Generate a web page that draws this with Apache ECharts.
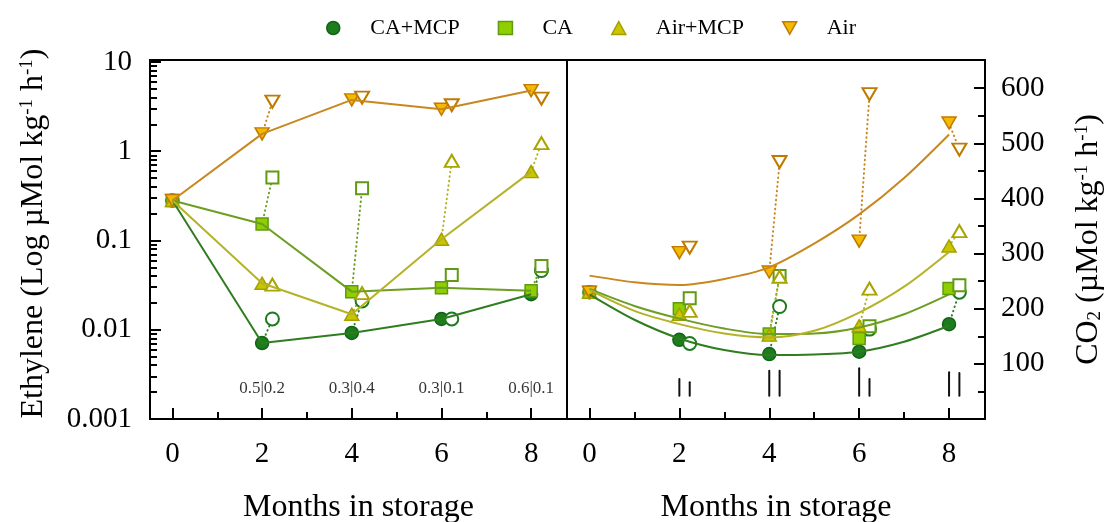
<!DOCTYPE html>
<html lang="en">
<head>
<meta charset="UTF-8">
<title>Ethylene and CO2 during storage</title>
<style>
  html, body { margin: 0; padding: 0; background: #fff; }
  #main { width: 1110px; height: 522px; }
</style>
</head>
<body>
<div id="main"></div>
<script src="https://cdn.jsdelivr.net/npm/echarts@6/dist/echarts.min.js"></script>
<script>
// months in storage (filled = at removal, open = after shelf life)
var months = [0, 2, 4, 6, 8];
var shelfMonths = [2.23, 4.23, 6.23, 8.23];
var fitMonths = [0, 1, 2, 3, 4, 5, 6, 7, 8];

// ethylene, log scale (left panel)
var caMcpEth = [0.28, 0.0071, 0.0092, 0.0132, 0.025];
var caEth = [0.28, 0.153, 0.0267, 0.0296, 0.0274];
var airMcpEth = [0.28, 0.0331, 0.0149, 0.103, 0.59];
var airEth = [0.28, 1.56, 3.75, 2.95, 4.77];
var caMcpEthShelf = [0.0132, 0.021, 0.0132, 0.046];
var caEthShelf = [0.506, 0.385, 0.041, 0.0517];
var airMcpEthShelf = [0.032, 0.0257, 0.78, 1.23];
var airEthShelf = [3.59, 3.98, 3.27, 3.88];
var lsdText = ['0.5|0.2', '0.3|0.4', '0.3|0.1', '0.6|0.1'];
var lsdTextMonths = [2, 4, 6, 8];

// CO2 (right panel)
var caMcpCO2 = [230, 143.6, 117.7, 122, 172];
var caCO2 = [230, 200, 154, 146, 236.5];
var airMcpCO2 = [230, 190, 152, 169, 313.6];
var airCO2 = [230, 301.6, 266.6, 322.6, 536.7];
var caMcpCO2Shelf = [137, 204, 163, 230];
var caCO2Shelf = [219, 259.4, 168, 242.5];
var airMcpCO2Shelf = [196, 258, 236.5, 340.7];
var airCO2Shelf = [310.7, 466, 589, 488.4];
// fitted curves read at every month
var caMcpFit = [226, 180, 146, 125, 116, 117, 122, 140, 169];
var caFit = [236, 205, 182, 164, 154, 155, 166, 190, 226];
var airMcpFit = [234, 196, 172, 155, 148, 160, 193, 240, 303];
var airFit = [260, 248, 243, 254, 275, 318, 371, 437, 516];
// LSD bars
var lsdBarMonths = [2, 2.23, 4, 4.23, 6, 6.23, 8, 8.23];
var lsdBarTop = [72.7, 66.7, 87.5, 87.5, 92, 72.5, 84.6, 83.4];
var lsdBarBase = 42.3;

var FONT = 'Liberation Serif';
var downTri = 'path://M0,0L10,0L5,9Z';

var groups = [
  { name: 'CA+MCP', symbol: 'circle', size: 13, fill: '#1b7d1b', edge: '#14621a', line: '#2f7d20', open: '#1e7a1e',
    eth: caMcpEth, ethShelf: caMcpEthShelf, co2: caMcpCO2, co2Shelf: caMcpCO2Shelf, fit: caMcpFit },
  { name: 'CA', symbol: 'rect', size: 12, fill: '#8fce00', edge: '#5f9a12', line: '#6c9e22', open: '#5f9a12',
    eth: caEth, ethShelf: caEthShelf, co2: caCO2, co2Shelf: caCO2Shelf, fit: caFit },
  { name: 'Air+MCP', symbol: 'triangle', size: [14, 12], fill: '#c9c500', edge: '#a3a000', line: '#b5b228', open: '#a8a400',
    eth: airMcpEth, ethShelf: airMcpEthShelf, co2: airMcpCO2, co2Shelf: airMcpCO2Shelf, fit: airMcpFit },
  { name: 'Air', symbol: downTri, size: [14, 12], fill: '#f4ba00', edge: '#c07a00', line: '#c8871f', open: '#c07a00',
    eth: airEth, ethShelf: airEthShelf, co2: airCO2, co2Shelf: airCO2Shelf, fit: airFit }
];

function pairs(xs, ys) {
  return xs.map(function (x, i) { return [x, ys[i]]; });
}

function segRender(color, dash) {
  return function (params, api) {
    var p0 = api.coord([api.value(0), api.value(1)]);
    var p1 = api.coord([api.value(2), api.value(3)]);
    return {
      type: 'line',
      shape: { x1: p0[0], y1: p0[1], x2: p1[0], y2: p1[1] },
      style: { stroke: color, lineWidth: 2, lineDash: dash, lineCap: 'round' }
    };
  };
}

function connectors(filled, shelf) {
  return shelfMonths.map(function (m, i) {
    return [months[i + 1], filled[i + 1], m, shelf[i]];
  });
}

var series = [];
// lines and dotted connectors first
groups.forEach(function (g) {
  series.push({
    type: 'custom', xAxisIndex: 0, yAxisIndex: 0, silent: true,
    renderItem: segRender(g.line, [0.5, 4]),
    encode: { x: [0, 2], y: [1, 3] },
    data: connectors(g.eth, g.ethShelf)
  });
  series.push({
    type: 'custom', xAxisIndex: 2, yAxisIndex: 2, silent: true,
    renderItem: segRender(g.line, [0.5, 4]),
    encode: { x: [0, 2], y: [1, 3] },
    data: connectors(g.co2, g.co2Shelf)
  });
  series.push({
    type: 'line', xAxisIndex: 0, yAxisIndex: 0, symbol: 'none',
    lineStyle: { color: g.line, width: 2 },
    data: pairs(months, g.eth)
  });
  series.push({
    type: 'line', xAxisIndex: 2, yAxisIndex: 2, symbol: 'none', smooth: 0.3,
    lineStyle: { color: g.line, width: 2 },
    data: pairs(fitMonths, g.fit)
  });
});
// markers
groups.forEach(function (g) {
  var filledStyle = { color: g.fill, borderColor: g.edge, borderWidth: 1.5, opacity: 1 };
  var openStyle = { color: '#fff', borderColor: g.open, borderWidth: 2, opacity: 1 };
  series.push({
    name: g.name, type: 'scatter', xAxisIndex: 0, yAxisIndex: 0,
    symbol: g.symbol, symbolSize: g.size, itemStyle: filledStyle,
    data: pairs(months, g.eth)
  });
  series.push({
    type: 'scatter', xAxisIndex: 0, yAxisIndex: 0,
    symbol: g.symbol, symbolSize: g.size, itemStyle: openStyle,
    data: pairs(shelfMonths, g.ethShelf)
  });
  series.push({
    type: 'scatter', xAxisIndex: 2, yAxisIndex: 2,
    symbol: g.symbol, symbolSize: g.size, itemStyle: filledStyle,
    data: pairs(months, g.co2)
  });
  series.push({
    type: 'scatter', xAxisIndex: 2, yAxisIndex: 2,
    symbol: g.symbol, symbolSize: g.size, itemStyle: openStyle,
    data: pairs(shelfMonths, g.co2Shelf)
  });
});
// LSD text (left) and bars (right)
series.push({
  type: 'scatter', xAxisIndex: 0, yAxisIndex: 0, symbolSize: 0, silent: true,
  data: lsdTextMonths.map(function (m, i) { return [m, 0.0022, lsdText[i]]; }),
  label: {
    show: true, position: 'inside', formatter: function (p) { return p.value[2]; },
    fontFamily: FONT, fontSize: 17, color: '#000'
  }
});
series.push({
  type: 'custom', xAxisIndex: 2, yAxisIndex: 2, silent: true,
  renderItem: segRender('#111', null),
  encode: { x: [0, 2], y: [1, 3] },
  data: lsdBarMonths.map(function (m, i) { return [m, lsdBarBase, m, lsdBarTop[i]]; })
});

function xAxes(grid) {
  var base = {
    gridIndex: grid, type: 'value', position: 'bottom', min: -0.5, max: 8.8,
    axisLine: { show: false, onZero: false }, splitLine: { show: false }
  };
  return [
    Object.assign({}, base, {
      name: 'Months in storage', nameLocation: 'middle', nameGap: 73,
      nameTextStyle: { fontFamily: FONT, fontSize: 32, color: '#000' },
      axisTick: { show: true, inside: true, length: 11, customValues: [0, 2, 4, 6, 8], lineStyle: { color: '#000', width: 2 } },
      axisLabel: { customValues: [0, 2, 4, 6, 8], fontFamily: FONT, fontSize: 29, color: '#000', margin: 21 }
    }),
    Object.assign({}, base, {
      axisTick: { show: true, inside: true, length: 7, customValues: [1, 3, 5, 7], lineStyle: { color: '#000', width: 2 } },
      axisLabel: { show: false }
    })
  ];
}

var logMinor = [];
[0.001, 0.01, 0.1, 1].forEach(function (d) {
  for (var k = 2; k <= 9; k++) logMinor.push(+(d * k).toPrecision(3));
});

var option = {
  animation: false,
  backgroundColor: '#fff',
  legend: {
    left: 321, top: 12, itemWidth: 14, itemHeight: 13, itemGap: 38, selectedMode: false,
    textStyle: { fontFamily: FONT, fontSize: 22, color: '#000', padding: [0, 0, 0, 25] },
    data: groups.map(function (g) {
      return {
        name: g.name,
        icon: g.symbol,
        itemStyle: { color: g.fill, borderColor: g.edge, borderWidth: 1.5 }
      };
    })
  },
  grid: [
    { left: 150, top: 60, width: 417, height: 359, show: true, borderColor: '#000', borderWidth: 2,
      backgroundColor: 'transparent', outerBoundsMode: 'none' },
    { left: 567, top: 60, width: 418, height: 359, show: true, borderColor: '#000', borderWidth: 2,
      backgroundColor: 'transparent', outerBoundsMode: 'none' }
  ],
  xAxis: xAxes(0).concat(xAxes(1)),
  yAxis: [
    {
      gridIndex: 0, type: 'log', logBase: 10, min: 0.001, max: 10.5, position: 'left',
      axisLine: { show: false, onZero: false }, splitLine: { show: false },
      name: 'Ethylene (Log µMol kg{sup|-1} h{sup|-1})', nameLocation: 'middle', nameRotate: 90, nameGap: 100,
      nameTextStyle: {
        fontFamily: FONT, fontSize: 32, color: '#000', padding: [0, 0, 0, 12],
        rich: { sup: { fontFamily: FONT, fontSize: 19, color: '#000', verticalAlign: 'top', padding: [0, 0, 13, 0] } }
      },
      axisTick: { show: true, inside: true, length: 11, customValues: [0.001, 0.01, 0.1, 1, 10], lineStyle: { color: '#000', width: 2 } },
      axisLabel: {
        customValues: [0.001, 0.01, 0.1, 1, 10], fontFamily: FONT, fontSize: 29, color: '#000', margin: 18,
        formatter: function (v) { return String(v); }
      }
    },
    {
      gridIndex: 0, type: 'log', logBase: 10, min: 0.001, max: 10.5, position: 'left',
      axisLine: { show: false, onZero: false }, splitLine: { show: false },
      axisTick: { show: true, inside: true, length: 7, customValues: logMinor, lineStyle: { color: '#000', width: 2 } },
      axisLabel: { show: false }
    },
    {
      gridIndex: 1, type: 'value', position: 'right', min: 0, max: 651,
      axisLine: { show: false, onZero: false }, splitLine: { show: false },
      name: 'CO{sub|2} (µMol kg{sup|-1} h{sup|-1})', nameLocation: 'middle', nameRotate: 90, nameGap: 88,
      nameTextStyle: {
        fontFamily: FONT, fontSize: 32, color: '#000',
        rich: {
          sup: { fontFamily: FONT, fontSize: 19, color: '#000', verticalAlign: 'top', padding: [0, 0, 13, 0] },
          sub: { fontFamily: FONT, fontSize: 19, color: '#000', verticalAlign: 'bottom', padding: [10, 0, 0, 0] }
        }
      },
      axisTick: { show: true, inside: true, length: 11, customValues: [100, 200, 300, 400, 500, 600], lineStyle: { color: '#000', width: 2 } },
      axisLabel: { customValues: [100, 200, 300, 400, 500, 600], fontFamily: FONT, fontSize: 29, color: '#000', margin: 16 }
    },
    {
      gridIndex: 1, type: 'value', position: 'right', min: 0, max: 651,
      axisLine: { show: false, onZero: false }, splitLine: { show: false },
      axisTick: { show: true, inside: true, length: 7, customValues: [50, 150, 250, 350, 450, 550], lineStyle: { color: '#000', width: 2 } },
      axisLabel: { show: false }
    }
  ],
  series: series
};

var myChart = echarts.init(document.getElementById('main'));
myChart.setOption(option);
window.onresize = function () { myChart.resize(); };
</script>
</body>
</html>
